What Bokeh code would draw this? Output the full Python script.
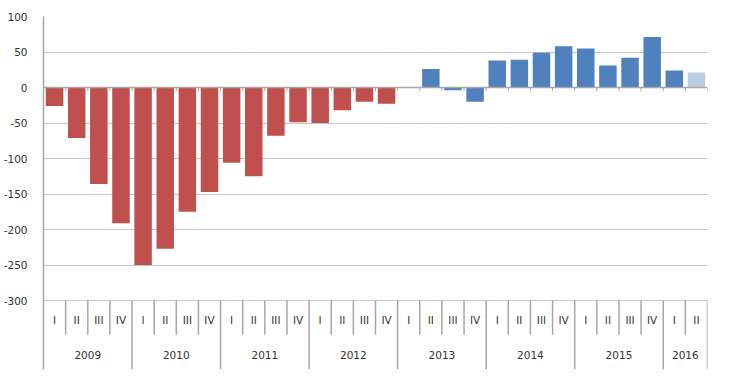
from bokeh.plotting import figure
from bokeh.models import ColumnDataSource, Range1d, FixedTicker
from bokeh.core.properties import value
from bokeh.embed import file_html
from bokeh.resources import INLINE

years = ["2009", "2010", "2011", "2012", "2013", "2014", "2015", "2016"]
quarters_per_year = [4, 4, 4, 4, 4, 4, 4, 2]
quarter_names = ["I", "II", "III", "IV"]
values = [-26, -71, -136, -191,
          -250, -227, -175, -147,
          -106, -125, -68, -49,
          -50, -32, -20, -23,
          0, 26, -4, -20,
          38, 39, 49, 58,
          55, 31, 42, 71,
          24, 21]
series = (["negative"] * 16) + (["positive"] * 13) + ["preliminary"]
palette = {"negative": "#C0504D", "positive": "#4F81BD", "preliminary": "#B9CDE5"}
y_ticks = [-300, -250, -200, -150, -100, -50, 0, 50, 100]

n = len(values)
FONT = "DejaVu Sans"
TXT = "#333333"
AX = "#A6A6A6"

p = figure(width=714, height=370, output_backend="svg", toolbar_location=None,
           x_range=Range1d(0, n), y_range=Range1d(-397, 100),
           x_axis_location=None, min_border_left=35, min_border_right=7,
           min_border_top=16, min_border_bottom=1)
p.outline_line_color = None
p.xgrid.visible = False
p.ygrid.ticker = FixedTicker(ticks=y_ticks)
p.ygrid.grid_line_color = "#8C8C8C"
p.ygrid.grid_line_dash = "1 1"
p.ygrid.grid_line_width = 1

p.yaxis.ticker = FixedTicker(ticks=y_ticks)
p.yaxis.major_label_overrides = {t: str(t) for t in y_ticks}
p.yaxis.major_tick_line_color = None
p.yaxis.minor_tick_line_color = None
p.yaxis.axis_line_color = AX
p.yaxis.axis_line_width = 1.5
p.yaxis.major_label_standoff = 10
p.yaxis.major_label_text_font = FONT
p.yaxis.major_label_text_font_size = "10.5px"
p.yaxis.major_label_text_color = TXT

xs = [i + 0.5 for i in range(n)]
colors = [palette[s] for s in series]
src = ColumnDataSource(dict(x=xs, top=values, color=colors))
p.vbar(x="x", top="top", bottom=0, width=0.79, fill_color="color",
       line_color=None, source=src)

# zero line with small ticks
p.segment(x0=[0], y0=[0], x1=[n], y1=[0], line_color=AX, line_width=1.5)
p.segment(x0=list(range(1, n + 1)), y0=[0] * n, x1=list(range(1, n + 1)),
          y1=[-5] * n, line_color=AX, line_width=1)

# category axis: quarter labels and separators
q_labels = []
for cnt in quarters_per_year:
    q_labels += quarter_names[:cnt]
p.text(x=xs, y=[-328] * n, text=q_labels, text_font=value(FONT),
       text_font_size="10.5px", text_color=TXT, text_align="center",
       text_baseline="middle")

boundaries = list(range(1, n + 1))
year_edges = []
acc = 0
for cnt in quarters_per_year:
    acc += cnt
    year_edges.append(acc)
q_only = [b for b in boundaries if b not in year_edges]
p.segment(x0=q_only, y0=[-300] * len(q_only), x1=q_only, y1=[-348] * len(q_only),
          line_color=AX, line_width=1.5)
p.segment(x0=year_edges, y0=[-300] * len(year_edges), x1=year_edges,
          y1=[-397] * len(year_edges), line_color=AX, line_width=1.5)

# year labels
year_x = []
start = 0
for cnt in quarters_per_year:
    year_x.append(start + cnt / 2)
    start += cnt
p.text(x=year_x, y=[-376] * len(years), text=years, text_font=value(FONT),
       text_font_size="10.5px", text_color=TXT, text_align="center",
       text_baseline="middle")

open("out.html", "w").write(file_html(p, INLINE))
